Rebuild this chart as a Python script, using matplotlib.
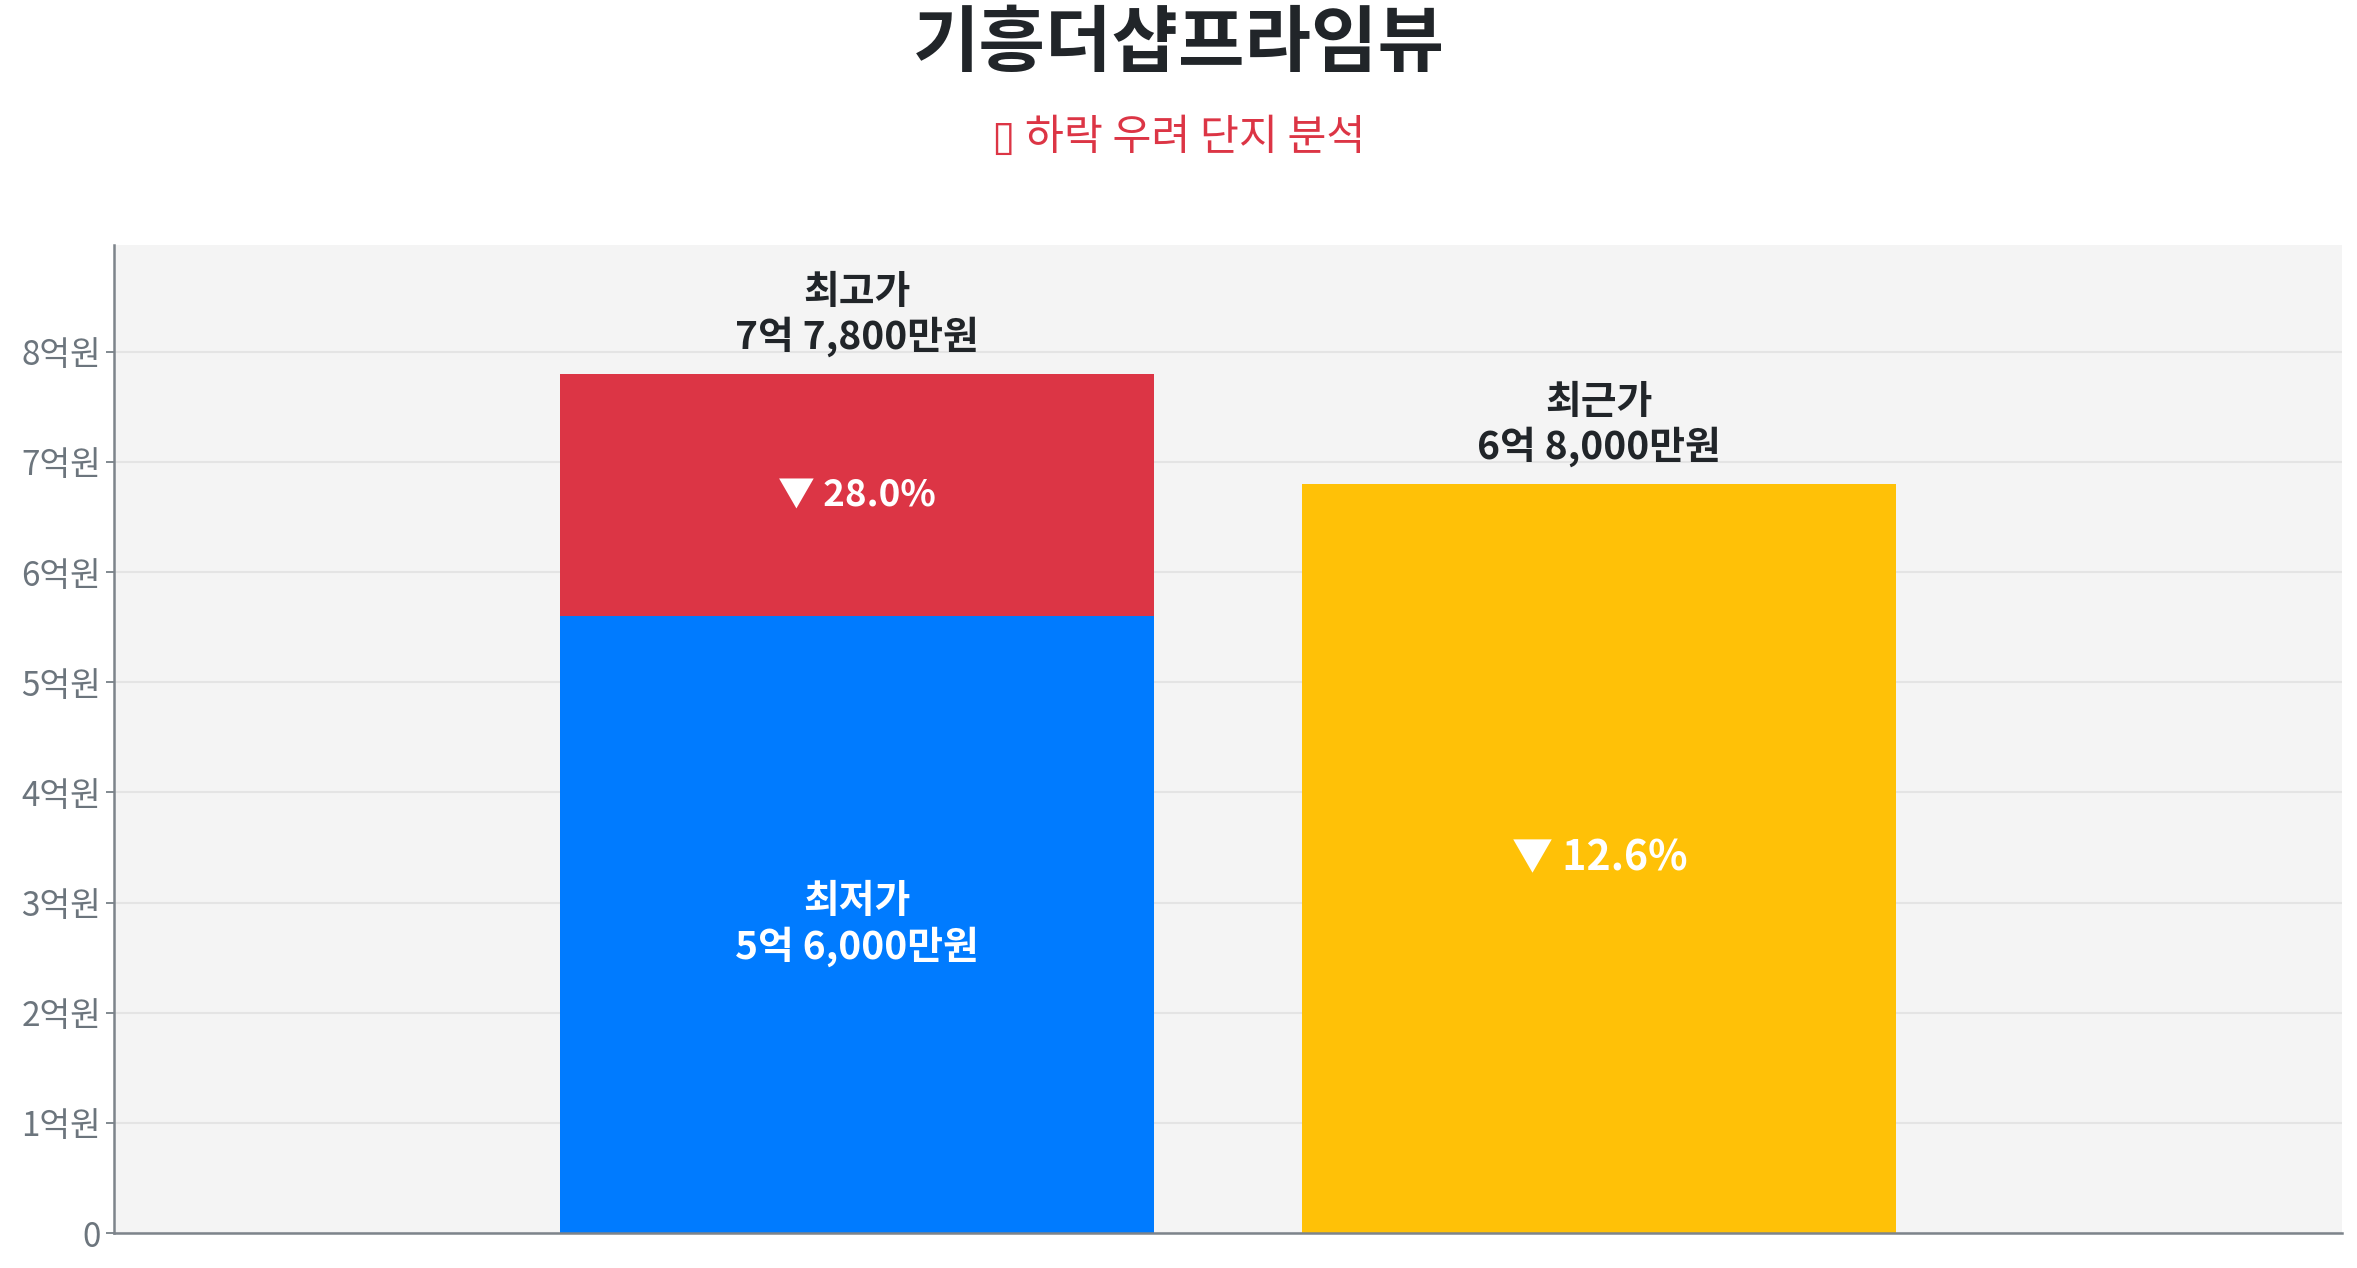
import matplotlib.pyplot as plt
from matplotlib.ticker import FuncFormatter

plt.rcParams['font.family'] = ['Noto Sans CJK KR', 'DejaVu Sans']

title = '기흥더샵프라임뷰'
subtitle = '▯ 하락 우려 단지 분석'

# prices in 억원
low_price = 5.6
high_price = 7.8
recent_price = 6.8
drop_from_high = '▼ 28.0%'
drop_recent = '▼ 12.6%'
high_label = '최고가\n7억 7,800만원'
low_label = '최저가\n5억 6,000만원'
recent_label = '최근가\n6억 8,000만원'

blue = '#007bff'
red = '#dc3545'
yellow = '#ffc107'
dark = '#212529'
grey = '#6c757d'

fig = plt.figure(figsize=(23.57, 12.68), dpi=100)
ax = fig.add_axes([0.0484, 0.0276, 0.9452, 0.7792])
ax.set_facecolor('#f4f4f4')

w = 0.8
ax.bar(0, low_price, width=w, color=blue, zorder=2)
ax.bar(0, high_price - low_price, bottom=low_price, width=w, color=red, zorder=2)
ax.bar(1, recent_price, width=w, color=yellow, zorder=2)

ax.set_xlim(-1, 2)
ax.set_ylim(0, high_price * 1.15)

# labels on the bars
ax.text(0, (low_price + high_price) / 2, drop_from_high, ha='center', va='center',
        color='white', fontsize=26.5, fontweight='bold', zorder=3)
ax.text(0, low_price / 2, low_label, ha='center', va='center', color='white',
        fontsize=28, fontweight='bold', linespacing=1.15, zorder=3)
ax.text(1, recent_price / 2, drop_recent, ha='center', va='center', color='white',
        fontsize=29.5, fontweight='bold', zorder=3)
ax.annotate(high_label, (0, high_price), xytext=(0, 12), textcoords='offset points',
            ha='center', va='bottom', color=dark, fontsize=28, fontweight='bold',
            linespacing=1.15)
ax.annotate(recent_label, (1, recent_price), xytext=(0, 12), textcoords='offset points',
            ha='center', va='bottom', color=dark, fontsize=28, fontweight='bold',
            linespacing=1.15)

ax.set_yticks(range(0, 9))
ax.yaxis.set_major_formatter(FuncFormatter(lambda v, p: '0' if v == 0 else f'{int(v)}억원'))
ax.tick_params(axis='y', labelsize=24, colors=grey, length=6, width=1.2)
ax.tick_params(axis='x', bottom=False, labelbottom=False)
ax.grid(axis='y', color='#e4e4e4', linewidth=1.5, zorder=1)
ax.set_axisbelow(True)

for s in ['top', 'right']:
    ax.spines[s].set_visible(False)
for s in ['left', 'bottom']:
    ax.spines[s].set_color('#7d848b')
    ax.spines[s].set_linewidth(1.8)

fig.text(0.5, 0.965, title, ha='center', va='center', fontsize=52,
         fontweight='bold', color=dark)
fig.text(0.5, 0.891, subtitle, ha='center', va='center', fontsize=30.5, color=red)

fig.savefig('out.png', dpi=100, facecolor='white')
